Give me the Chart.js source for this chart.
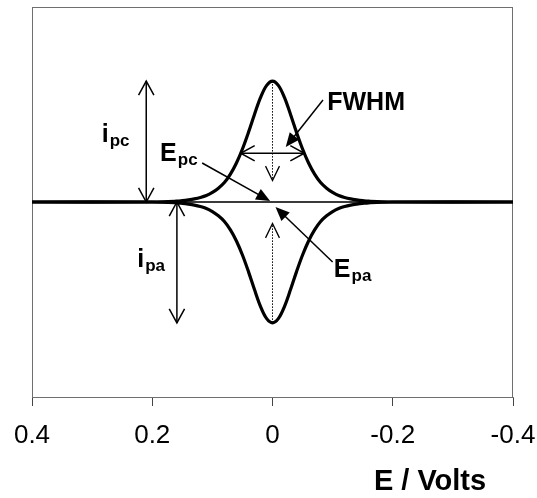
<!DOCTYPE html>
<html>
<head>
<meta charset="utf-8">
<script src="https://cdn.jsdelivr.net/npm/chart.js@4.4.0/dist/chart.umd.min.js"></script>
<style>
  html, body { margin: 0; padding: 0; background: #fff; }
  #wrap { width: 537px; height: 498px; }
</style>
</head>
<body>
<div id="wrap"><canvas id="cv" width="537" height="498"></canvas></div>
<script>
// potential (V) and the two current branches (peak = 0.62 of the half-range)
const potentials = [0.4, 0.2, 0.16, 0.15, 0.14, 0.13, 0.12, 0.11, 0.10, 0.09, 0.08, 0.07, 0.06, 0.05, 0.04, 0.03, 0.02, 0.01, 0,
  -0.01, -0.02, -0.03, -0.04, -0.05, -0.06, -0.07, -0.08, -0.09, -0.10, -0.11, -0.12, -0.13, -0.14, -0.15, -0.16, -0.2, -0.4];
const cathodicCurrent = [0, 0, 0.004, 0.007, 0.011, 0.016, 0.023, 0.033, 0.049, 0.071, 0.100, 0.143, 0.200, 0.272, 0.357, 0.449, 0.535, 0.597, 0.62,
  0.597, 0.535, 0.449, 0.357, 0.272, 0.200, 0.143, 0.100, 0.071, 0.049, 0.033, 0.023, 0.016, 0.011, 0.007, 0.004, 0, 0];
const anodicCurrent = [0, 0, -0.004, -0.007, -0.011, -0.016, -0.023, -0.033, -0.049, -0.071, -0.100, -0.143, -0.200, -0.272, -0.357, -0.449, -0.535, -0.597, -0.62,
  -0.597, -0.535, -0.449, -0.357, -0.272, -0.200, -0.143, -0.100, -0.071, -0.049, -0.033, -0.023, -0.016, -0.011, -0.007, -0.004, 0, 0];
const baselineE = [0.4, -0.4];
const baselineI = [0, 0];

const tickValues = [0.4, 0.2, 0, -0.2, -0.4];
const tickLabels = ['0.4', '0.2', '0', '-0.2', '-0.4'];
const axisTitle = 'E / Volts';

const FONT = 'Arial, "Liberation Sans", sans-serif';

// annotation marks, in data units (E, i)
const notes = {
  doubleArrows: [
    [0.21, 0, 0.21, 0.62],        // i_pc
    [0.159, 0, 0.159, -0.62],     // i_pa
    [0.053, 0.25, -0.053, 0.25]   // FWHM
  ],
  dottedArrows: [
    [0, 0.62, 0, 0.11],
    [0, -0.62, 0, -0.11]
  ],
  pointers: [
    [0.117, 0.2, 0.004, 0.005],     // E_pc
    [-0.1, -0.308, -0.005, -0.026], // E_pa
    [-0.084, 0.523, -0.022, 0.282]  // FWHM
  ],
  labels: [
    { e: 0.284, i: 0.308, main: 'i', sub: 'pc' },
    { e: 0.187, i: 0.21, main: 'E', sub: 'pc' },
    { e: -0.091, i: 0.472, main: 'FWHM', sub: '' },
    { e: 0.225, i: -0.333, main: 'i', sub: 'pa' },
    { e: -0.102, i: -0.385, main: 'E', sub: 'pa' }
  ]
};

function toPoints(xs, ys) {
  return xs.map((x, k) => ({ x: x, y: ys[k] }));
}

function openHead(ctx, fx, fy, tx, ty, len, ang) {
  const a = Math.atan2(ty - fy, tx - fx);
  ctx.beginPath();
  ctx.moveTo(tx - len * Math.cos(a - ang), ty - len * Math.sin(a - ang));
  ctx.lineTo(tx, ty);
  ctx.lineTo(tx - len * Math.cos(a + ang), ty - len * Math.sin(a + ang));
  ctx.stroke();
}

function filledHead(ctx, fx, fy, tx, ty, len, half) {
  const a = Math.atan2(ty - fy, tx - fx);
  const bx = tx - len * Math.cos(a), by = ty - len * Math.sin(a);
  ctx.beginPath();
  ctx.moveTo(tx, ty);
  ctx.lineTo(bx + half * Math.sin(a), by - half * Math.cos(a));
  ctx.lineTo(bx - half * Math.sin(a), by + half * Math.cos(a));
  ctx.closePath();
  ctx.fill();
}

const framePlugin = {
  id: 'frame',
  beforeDatasetsDraw(chart) {
    const { ctx, chartArea: a } = chart;
    ctx.save();
    ctx.strokeStyle = '#6f6f6f';
    ctx.lineWidth = 1;
    ctx.strokeRect(a.left + 0.5, a.top + 0.5, a.right - a.left - 1, a.bottom - a.top);
    ctx.restore();
  }
};

const notesPlugin = {
  id: 'notes',
  afterDatasetsDraw(chart) {
    const ctx = chart.ctx;
    const xs = chart.scales.x, ys = chart.scales.y;
    const px = v => xs.getPixelForValue(v);
    const py = v => ys.getPixelForValue(v);
    ctx.save();
    ctx.strokeStyle = '#000';
    ctx.fillStyle = '#000';
    ctx.lineCap = 'butt';

    ctx.lineWidth = 1.5;
    notes.doubleArrows.forEach(([x1, y1, x2, y2]) => {
      const a = [px(x1), py(y1)], b = [px(x2), py(y2)];
      ctx.beginPath();
      ctx.moveTo(a[0], a[1]);
      ctx.lineTo(b[0], b[1]);
      ctx.stroke();
      openHead(ctx, a[0], a[1], b[0], b[1], 16, 0.5);
      openHead(ctx, b[0], b[1], a[0], a[1], 16, 0.5);
    });

    notes.dottedArrows.forEach(([x1, y1, x2, y2]) => {
      const a = [px(x1), py(y1)], b = [px(x2), py(y2)];
      ctx.lineWidth = 1;
      ctx.setLineDash([1.5, 1.5]);
      ctx.beginPath();
      ctx.moveTo(a[0], a[1]);
      ctx.lineTo(b[0], b[1]);
      ctx.stroke();
      ctx.setLineDash([]);
      ctx.lineWidth = 1.3;
      openHead(ctx, a[0], a[1], b[0], b[1], 16, 0.45);
    });

    ctx.lineWidth = 1.5;
    notes.pointers.forEach(([x1, y1, x2, y2]) => {
      const a = [px(x1), py(y1)], b = [px(x2), py(y2)];
      const ang = Math.atan2(b[1] - a[1], b[0] - a[0]);
      ctx.beginPath();
      ctx.moveTo(a[0], a[1]);
      ctx.lineTo(b[0] - 10 * Math.cos(ang), b[1] - 10 * Math.sin(ang));
      ctx.stroke();
      filledHead(ctx, a[0], a[1], b[0], b[1], 14, 6);
    });

    ctx.textBaseline = 'alphabetic';
    ctx.textAlign = 'left';
    notes.labels.forEach(l => {
      const x = px(l.e), y = py(l.i);
      ctx.font = 'bold 25px ' + FONT;
      ctx.fillText(l.main, x, y);
      if (l.sub) {
        const w = ctx.measureText(l.main).width;
        ctx.font = 'bold 17px ' + FONT;
        ctx.fillText(l.sub, x + w + 1, y + 4);
      }
    });

    // axis title, right of centre under the axis
    ctx.font = 'bold 29px ' + FONT;
    ctx.textAlign = 'center';
    ctx.fillText(axisTitle, px(-0.262), chart.height - 8);
    ctx.restore();
  }
};

new Chart(document.getElementById('cv'), {
  type: 'line',
  data: {
    datasets: [
      {
        label: 'baseline',
        data: toPoints(baselineE, baselineI),
        borderColor: '#3a3a3a',
        borderWidth: 2,
        pointRadius: 0,
        order: 3
      },
      {
        label: 'cathodic',
        data: toPoints(potentials, cathodicCurrent),
        borderColor: '#000',
        borderWidth: 3.2,
        pointRadius: 0,
        tension: 0.35,
        order: 1
      },
      {
        label: 'anodic',
        data: toPoints(potentials, anodicCurrent),
        borderColor: '#000',
        borderWidth: 3.2,
        pointRadius: 0,
        tension: 0.35,
        order: 2
      }
    ]
  },
  options: {
    responsive: false,
    animation: false,
    layout: { padding: { left: 32, right: 24, top: 7, bottom: 0 } },
    plugins: {
      legend: { display: false },
      tooltip: { enabled: false }
    },
    scales: {
      x: {
        type: 'linear',
        reverse: true,
        min: -0.4,
        max: 0.4,
        afterBuildTicks: s => { s.ticks = tickValues.map(v => ({ value: v })); },
        afterFit: s => {
          s.height = 101;
          s.paddingLeft = 0;
          s.paddingRight = 0;
        },
        grid: {
          drawOnChartArea: false,
          drawTicks: true,
          tickLength: 9,
          color: '#444',
          lineWidth: 1
        },
        border: { display: true, color: '#6f6f6f', width: 1 },
        ticks: {
          autoSkip: false,
          maxRotation: 0,
          padding: 14,
          color: '#000',
          font: { family: FONT, size: 26 },
          callback: v => tickLabels[tickValues.indexOf(v)]
        }
      },
      y: {
        type: 'linear',
        display: false,
        min: -1,
        max: 1
      }
    }
  },
  plugins: [framePlugin, notesPlugin]
});
</script>
</body>
</html>
